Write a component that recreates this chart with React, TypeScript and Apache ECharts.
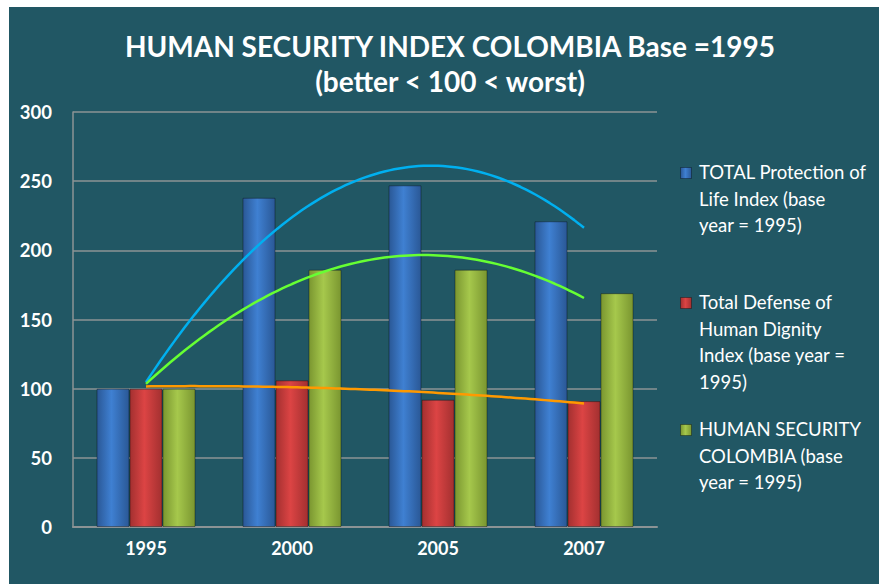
import React, { useEffect, useRef } from "react";
import * as echarts from "echarts";

// ---- data ----
const categories = ["1995", "2000", "2005", "2007"];
const protectionOfLife = [100, 238, 247, 221];
const defenseOfDignity = [100, 106, 92, 91];
const humanSecurity = [100, 186, 186, 169];

const seriesNames = [
  "TOTAL Protection of Life Index (base year = 1995)",
  "Total Defense of Human Dignity Index (base year = 1995)",
  "HUMAN SECURITY COLOMBIA (base year = 1995)",
];
const legendLines = [
  "TOTAL Protection of\nLife Index (base\nyear = 1995)",
  "Total Defense of\nHuman Dignity\nIndex (base year =\n1995)",
  "HUMAN SECURITY\nCOLOMBIA (base\nyear = 1995)",
];
const titleText = "HUMAN SECURITY INDEX COLOMBIA Base =1995\n(better < 100 < worst)";

const yMin = 0;
const yMax = 300;
const yInterval = 50;

// Excel-style 2nd order polynomial trendline (least squares on x = 1..n)
function quadTrend(values: number[]) {
  const n = values.length;
  const xs = values.map((_, i) => i + 1);
  let s0 = n, s1 = 0, s2 = 0, s3 = 0, s4 = 0, t0 = 0, t1 = 0, t2 = 0;
  xs.forEach((x, i) => {
    const y = values[i];
    s1 += x; s2 += x * x; s3 += x ** 3; s4 += x ** 4;
    t0 += y; t1 += x * y; t2 += x * x * y;
  });
  const A = [
    [s0, s1, s2, t0],
    [s1, s2, s3, t1],
    [s2, s3, s4, t2],
  ];
  for (let c = 0; c < 3; c++) {
    for (let r = c + 1; r < 3; r++) {
      const f = A[r][c] / A[c][c];
      for (let k = c; k < 4; k++) A[r][k] -= f * A[c][k];
    }
  }
  const coef = [0, 0, 0];
  for (let r = 2; r >= 0; r--) {
    let s = A[r][3];
    for (let k = r + 1; k < 3; k++) s -= A[r][k] * coef[k];
    coef[r] = s / A[r][r];
  }
  const pts: number[][] = [];
  const steps = 90;
  for (let i = 0; i <= steps; i++) {
    const x = 1 + ((n - 1) * i) / steps;
    pts.push([x, coef[0] + coef[1] * x + coef[2] * x * x]);
  }
  return pts;
}

const barGrad = (edge: string, mid: string) =>
  new echarts.graphic.LinearGradient(0, 0, 1, 0, [
    { offset: 0, color: edge },
    { offset: 0.45, color: mid },
    { offset: 1, color: edge },
  ]);

const barColors = [
  ["#2a5896", "#3f80d2"],
  ["#a33030", "#dc4444"],
  ["#7a9630", "#a6c84c"],
];
const trendColors = ["#00b0f0", "#66ff33", "#ff9900"];

const FONT = "Lato, 'Open Sans', sans-serif";

export default function App() {
  const ref = useRef<HTMLDivElement>(null);
  useEffect(() => {
    if (!ref.current) return;
    const chart = echarts.init(ref.current, undefined, { renderer: "svg" });
    const barData = [protectionOfLife, defenseOfDignity, humanSecurity];

    const legendTops = [152, 282, 409];
    const graphic: any[] = [];
    legendTops.forEach((top, i) => {
      graphic.push({
        type: "rect",
        left: 671,
        top: top + 8,
        shape: { width: 11, height: 11 },
        style: {
          fill: barGrad(barColors[i][0], barColors[i][1]),
          stroke: "rgba(0,0,0,0.35)",
          lineWidth: 1,
        },
      });
      graphic.push({
        type: "text",
        left: 690,
        top: top,
        style: {
          text: legendLines[i],
          fill: "#ffffff",
          font: `18.5px ${FONT}`,
          lineHeight: 26.5,
        },
      });
    });

    const option: any = {
      animation: false,
      backgroundColor: "#215764",
      textStyle: { fontFamily: FONT },
      title: {
        text: titleText,
        left: 441,
        textAlign: "center",
        top: 21,
        padding: 0,
        textStyle: {
          color: "#ffffff",
          fontSize: 28,
          fontWeight: "bold",
          fontFamily: FONT,
          lineHeight: 35,
        },
      },
      grid: { left: 64, top: 105, width: 584, height: 415, containLabel: false },
      xAxis: [
        {
          type: "category",
          data: categories,
          axisLine: { show: true, lineStyle: { color: "#8c9395", width: 2 } },
          axisTick: { show: false },
          axisLabel: {
            color: "#ffffff",
            fontWeight: "bold",
            fontSize: 18,
            fontFamily: FONT,
            margin: 12,
          },
        },
        { type: "value", min: 0.5, max: categories.length + 0.5, show: false },
      ],
      yAxis: {
        type: "value",
        min: yMin,
        max: yMax,
        interval: yInterval,
        axisLine: { show: true, lineStyle: { color: "#8c9395", width: 1.5 } },
        axisTick: { show: false },
        splitLine: { lineStyle: { color: "#8c9395", width: 1.5 } },
        axisLabel: {
          color: "#ffffff",
          fontWeight: "bold",
          fontSize: 18.5,
          fontFamily: FONT,
          margin: 21,
        },
      },
      series: [
        ...barData.map((d, i) => ({
          name: seriesNames[i],
          type: "bar",
          data: d,
          barWidth: 33,
          barGap: "0%",
          itemStyle: {
            color: barGrad(barColors[i][0], barColors[i][1]),
            borderColor: "rgba(0,0,0,0.35)",
            borderWidth: 1,
          },
          z: 2,
        })),
        ...[protectionOfLife, humanSecurity, defenseOfDignity].map((d, i) => ({
          name: "trend" + i,
          type: "line",
          xAxisIndex: 1,
          yAxisIndex: 0,
          data: quadTrend(d),
          showSymbol: false,
          symbol: "none",
          lineStyle: { color: trendColors[i], width: 2.5 },
          z: 5,
          silent: true,
        })),
      ],
      graphic,
    };
    chart.setOption(option);
    return () => chart.dispose();
  }, []);

  return (
    <div
      ref={ref}
      style={{ position: "absolute", left: 9, top: 7, width: 870, height: 577 }}
    />
  );
}
